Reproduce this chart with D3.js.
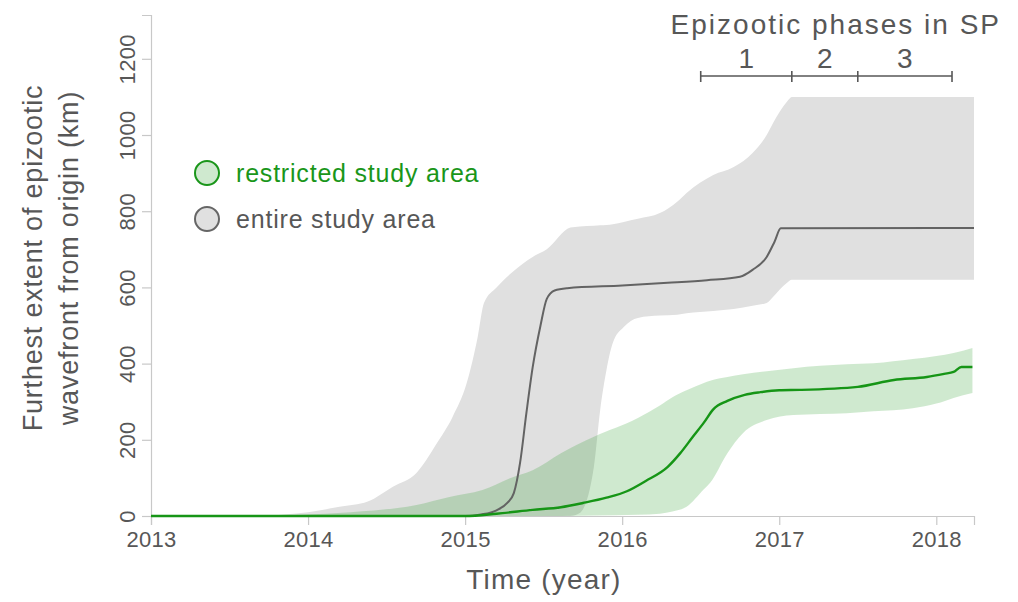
<!DOCTYPE html>
<html>
<head>
<meta charset="utf-8">
<script src="https://cdn.jsdelivr.net/npm/d3@7"></script>
<style>
  body { margin: 0; background: #fff; }
  svg text { font-family: "Liberation Sans", Arial, sans-serif; }
</style>
</head>
<body>
<svg width="1018" height="602"></svg>
<script>
// wavefront extent over time

// entire study area: uncertainty band (common time grid)
const entireBandT = [2013.0, 2013.7, 2013.85, 2014.0, 2014.2, 2014.38, 2014.54, 2014.69, 2014.82, 2014.92, 2015.01, 2015.08, 2015.12, 2015.2, 2015.3, 2015.43, 2015.52, 2015.67, 2015.73, 2015.82, 2015.86, 2015.9, 2015.94, 2016.01, 2016.1, 2016.24, 2016.35, 2016.41, 2016.58, 2016.71, 2016.83, 2016.92, 2016.96, 2017.05, 2017.08, 2018.24];
const entireUpper = [0, 0, 4, 10, 24, 38, 77, 113, 191, 260, 349, 470, 559, 600, 640, 680, 700, 757, 760, 762, 763, 764, 766, 772, 780, 795, 825, 848, 895, 916, 953, 1000, 1031, 1088, 1100, 1100];
const entireLower = [0, 0, 0, 0, 0, 0, 0, 0, 0, 0, 0, 0, 0, 0, 0, 0, 0, 0, 8, 129, 278, 383, 454, 496, 520, 526, 528, 532, 538, 543, 552, 559, 575, 612, 620, 620];

// entire study area: median
const entireLineT = [2013.0, 2015.0, 2015.1, 2015.2, 2015.27, 2015.31, 2015.35, 2015.39, 2015.43, 2015.48, 2015.52, 2015.57, 2015.65, 2016.0, 2016.29, 2016.54, 2016.75, 2016.83, 2016.92, 2016.97, 2017.01, 2018.24];
const entireLine = [0, 0, 4, 15, 35, 60, 140, 270, 390, 500, 570, 592, 598, 605, 612, 619, 628, 646, 680, 720, 755, 756];

// restricted study area: uncertainty band
const restrictedBandT = [2013.0, 2013.8, 2013.95, 2014.27, 2014.69, 2014.9, 2015.11, 2015.29, 2015.43, 2015.61, 2015.82, 2016.1, 2016.24, 2016.32, 2016.41, 2016.52, 2016.56, 2016.67, 2016.77, 2016.92, 2017.09, 2017.43, 2017.6, 2017.85, 2018.0, 2018.11, 2018.23];
const restrictedUpper = [0, 0, 3, 10, 29, 50, 68, 100, 120, 165, 208, 257, 290, 312, 330, 349, 355, 365, 372, 380, 388, 398, 401, 412, 420, 428, 441];
const restrictedLower = [0, 0, 0, 0, 0, 0, 0, 0, 0, 0, 1, 3, 6, 12, 24, 70, 87, 165, 218, 252, 265, 270, 275, 283, 295, 310, 323];

// restricted study area: median
const restrictedLineT = [2013.0, 2015.0, 2015.2, 2015.43, 2015.61, 2015.75, 2015.9, 2016.03, 2016.15, 2016.29, 2016.37, 2016.45, 2016.52, 2016.58, 2016.67, 2016.78, 2016.88, 2017.0, 2017.13, 2017.5, 2017.73, 2017.94, 2018.05, 2018.11, 2018.16, 2018.23];
const restrictedLine = [0, 0, 6, 16, 23, 34, 48, 65, 92, 129, 165, 208, 245, 280, 302, 318, 325, 330, 331, 339, 357, 365, 373, 378, 391, 391];

// epizootic phases in SP
const phaseBounds = [2016.5, 2017.08, 2017.5, 2018.1];
const phaseLabels = ['1', '2', '3'];

const xTicks = [2013, 2014, 2015, 2016, 2017, 2018];
const yTicks = [0, 200, 400, 600, 800, 1000, 1200];

const legendItems = [
    {label: 'restricted study area', fill: '#cfe9cf', stroke: '#1a961a', text: '#1a961a'},
    {label: 'entire study area', fill: '#e0e0e0', stroke: '#666', text: '#575757'}
];

const TEXT = '#575757';
const svg = d3.select('svg');
const x = d3.scaleLinear().domain([2013, 2018.24]).range([151, 974]);
const y = d3.scaleLinear().domain([0, 1315]).range([516, 15]);

function zip(ts, vs) {
    return ts.map(function(t, i) { return [t, vs[i]]; });
}
function band(ts, lo, hi) {
    return ts.map(function(t, i) { return {t: t, lo: lo[i], hi: hi[i]}; });
}

const area = d3.area()
    .curve(d3.curveMonotoneX)
    .x(d => x(d.t))
    .y0(d => y(d.lo))
    .y1(d => y(d.hi));
const line = d3.line()
    .curve(d3.curveMonotoneX)
    .x(d => x(d[0]))
    .y(d => y(d[1]));

// axes
const xAxis = svg.append('g')
    .attr('transform', 'translate(0,516)')
    .call(d3.axisBottom(x).tickValues(xTicks).tickFormat(d3.format('d')).tickSize(9).tickPadding(6));
const yAxis = svg.append('g')
    .attr('transform', 'translate(151,0)')
    .call(d3.axisLeft(y).tickValues(yTicks).tickFormat(d3.format('d')).tickSize(9).tickPadding(0));

[xAxis, yAxis].forEach(function(g) {
    g.select('.domain').attr('stroke', '#c8c8c8').attr('stroke-width', 1.2);
    g.selectAll('.tick line').attr('stroke', '#c8c8c8').attr('stroke-width', 1.2);
    g.selectAll('.tick text')
        .attr('fill', TEXT)
        .style('font-size', '22px')
        .style('letter-spacing', '0.3px');
});
yAxis.selectAll('.tick text')
    .attr('x', 0)
    .attr('dy', 0)
    .attr('text-anchor', 'middle')
    .attr('transform', 'translate(-16,0) rotate(-90)');
xAxis.selectAll('.tick text').attr('dy', '0.72em');

// bands
svg.append('path')
    .datum(band(entireBandT, entireLower, entireUpper))
    .attr('fill', '#e0e0e0')
    .attr('d', area);
svg.append('path')
    .datum(band(restrictedBandT, restrictedLower, restrictedUpper))
    .attr('fill', 'rgb(27,153,27)')
    .attr('fill-opacity', 0.21)
    .attr('d', area);

// medians
svg.append('path')
    .datum(zip(entireLineT, entireLine))
    .attr('fill', 'none')
    .attr('stroke', '#636363')
    .attr('stroke-width', 2)
    .attr('d', line);
svg.append('path')
    .datum(zip(restrictedLineT, restrictedLine))
    .attr('fill', 'none')
    .attr('stroke', '#169516')
    .attr('stroke-width', 2.4)
    .attr('d', line);

// axis titles
svg.append('text')
    .attr('x', 544)
    .attr('y', 589)
    .attr('text-anchor', 'middle')
    .attr('fill', TEXT)
    .style('font-size', '28px')
    .style('letter-spacing', '1.2px')
    .text('Time (year)');
const yTitle = svg.append('text')
    .attr('transform', 'translate(42,258) rotate(-90)')
    .attr('text-anchor', 'middle')
    .attr('fill', TEXT)
    .style('font-size', '27px')
    .style('letter-spacing', '0.8px');
yTitle.append('tspan').attr('x', 0).attr('y', 0).text('Furthest extent of epizootic');
yTitle.append('tspan').attr('x', 0).attr('y', 36).text('wavefront from origin (km)');

// legend
const legend = svg.append('g');
legendItems.forEach(function(item, i) {
    const cy = 173 + i * 46;
    legend.append('circle')
        .attr('cx', 207).attr('cy', cy).attr('r', 12)
        .attr('fill', item.fill)
        .attr('stroke', item.stroke)
        .attr('stroke-width', 2);
    legend.append('text')
        .attr('x', 236).attr('y', cy + 9)
        .attr('fill', item.text)
        .style('font-size', '25px')
        .style('letter-spacing', '0.8px')
        .text(item.label);
});

// phases
const phases = svg.append('g');
phases.append('text')
    .attr('x', 1001).attr('y', 34)
    .attr('text-anchor', 'end')
    .attr('fill', TEXT)
    .style('font-size', '28px')
    .style('letter-spacing', '2px')
    .text('Epizootic phases in SP');
phases.append('line')
    .attr('x1', x(phaseBounds[0])).attr('x2', x(phaseBounds[phaseBounds.length - 1]))
    .attr('y1', 76).attr('y2', 76)
    .attr('stroke', TEXT).attr('stroke-width', 1.6);
phases.selectAll('.ptick')
    .data(phaseBounds)
    .join('line')
    .attr('x1', d => x(d)).attr('x2', d => x(d))
    .attr('y1', 71).attr('y2', 82)
    .attr('stroke', TEXT).attr('stroke-width', 1.6);
phases.selectAll('.plabel')
    .data(phaseLabels)
    .join('text')
    .attr('x', (d, i) => (x(phaseBounds[i]) + x(phaseBounds[i + 1])) / 2)
    .attr('y', 68)
    .attr('text-anchor', 'middle')
    .attr('fill', TEXT)
    .style('font-size', '28px')
    .text(d => d);
</script>
</body>
</html>
